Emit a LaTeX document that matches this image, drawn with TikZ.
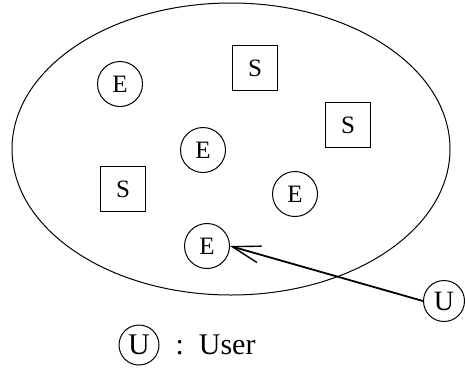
\documentclass[tikz,border=0pt]{standalone}
\usepackage{fontspec}
\setmainfont{Liberation Serif}
\usetikzlibrary{arrows.meta}

\begin{document}
\begin{tikzpicture}[x=1pt, y=-1pt]
% Node style
\tikzset{
    entity/.style={draw, circle, line width=1pt, minimum size=45pt, inner sep=0pt, font=\fontsize{25}{25}\selectfont},
    server/.style={draw, rectangle, line width=1pt, minimum size=45pt, inner sep=0pt, font=\fontsize{25}{25}\selectfont},
    user/.style={draw, circle, line width=1pt, minimum size=41pt, inner sep=0pt, font=\fontsize{28}{28}\selectfont}
}
\useasboundingbox (0,0) rectangle (465,368);

% Region
\draw[line width=1pt] (231,149) ellipse (219pt and 146pt);

% Nodes
\node[entity] (E1) at (120,84) {E};
\node[server] (S1) at (255,68) {S};
\node[server] (S2) at (348,125) {S};
\node[entity] (E2) at (203,150) {E};
\node[server] (S3) at (123,189) {S};
\node[entity] (E3) at (295,194) {E};
\node[entity] (E4) at (207,246) {E};
\node[user] (U) at (444,301) {U};

% Connections
\draw[line width=1.8pt, -{Straight Barb[length=28pt, width=17pt, line width=1.4pt]}] (U.west) -- (E4.east);

% Legend
\node[user, minimum size=40pt, font=\fontsize{30}{30}\selectfont] (UL) at (139,345) {U};
\node[anchor=west, font=\fontsize{30}{30}\selectfont] (UT) at (172,345) {:\, User};
\end{tikzpicture}
\end{document}
